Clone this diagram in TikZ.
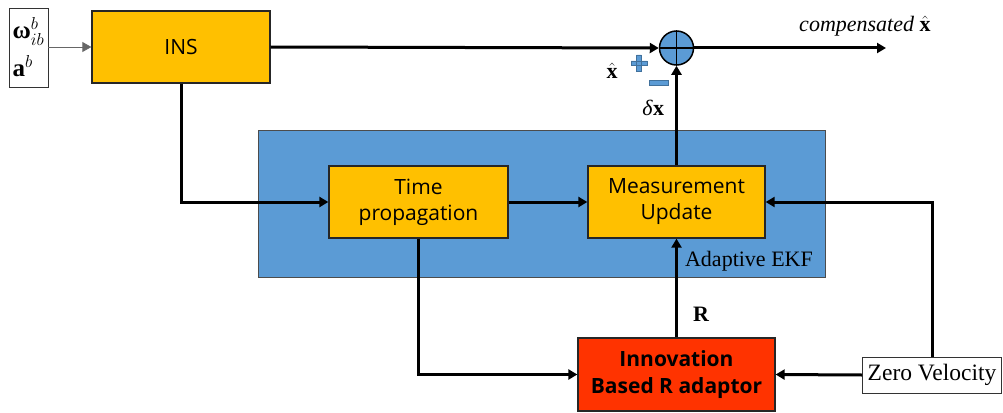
\documentclass[tikz,border=0pt]{standalone}
\usepackage{mathtools,amssymb}
\usepackage{fontspec}
\setmainfont{Liberation Serif}
\setsansfont{Open Sans}
\usetikzlibrary{arrows.meta}

\definecolor{insyellow}{HTML}{FFC000}
\definecolor{ekfblue}{HTML}{5B9BD5}
\definecolor{adaptred}{HTML}{FF3300}
\definecolor{signblue}{HTML}{41719C}

\newcommand{\bxhat}{$\hat{\text{\upshape\bfseries x}}$}

\tikzset{
  block/.style={draw=black!85, line width=1.3pt, fill=insyellow, inner sep=0pt,
    minimum width=178pt, minimum height=72pt, align=center,
    font=\sffamily\fontsize{21}{26}\selectfont},
  adaptbox/.style={block, fill=adaptred, minimum width=197pt, minimum height=73pt,
    font=\sffamily\bfseries\fontsize{21}{27}\selectfont},
  plainbox/.style={draw=black!80, line width=0.8pt, fill=white, inner sep=0pt},
  flow/.style={->, line width=3pt},
  lbl/.style={inner sep=0pt, font=\fontsize{22}{24}\selectfont},
}

\begin{document}
\begin{tikzpicture}[x=1pt, y=-1pt, >={Triangle[length=9pt,width=10pt]}]
  \useasboundingbox (0,0) rectangle (1003,412);

  % filter frame goes first so the blocks sit on top of it
  \node[draw=black!70, line width=0.8pt, fill=ekfblue, minimum width=567pt,
        minimum height=147pt] (ekf) at (542,203.5) {};
  \node[anchor=base east, inner sep=0pt, font=\fontsize{22}{24}\selectfont]
        (ekflabel) at (813,266) {Adaptive EKF};

  \node[plainbox, minimum width=39pt, minimum height=79pt, align=left,
        font=\fontsize{25}{38}\selectfont] (imu) at (28.5,47.5)
        {\textbf{ω}$_{ib}^{b}$\\\textbf{a}$^{b}$};
  \node[block] (ins) at (181,47) {INS};
  \node[circle, draw=black, line width=1.5pt, fill=ekfblue, minimum size=34pt,
        inner sep=0pt] (sum) at (676.5,48) {};
  \draw[line width=1.5pt] (sum.north) -- (sum.south) (sum.west) -- (sum.east);
  \coordinate (out) at (886,48);

  \node[block, minimum width=179pt] (tp) at (418.5,202) {Time\\propagation};
  \node[block, minimum width=177pt] (mu) at (676.5,202) {Measurement\\Update};
  \node[adaptbox] (adapt) at (676.5,374.5) {Innovation\\Based R adaptor};
  \node[plainbox, minimum width=139pt, minimum height=36pt,
        font=\fontsize{23.5}{26}\selectfont] (zv) at (932,375) {Zero Velocity};

  % signs at the summing junction
  \fill[ekfblue, draw=signblue, line width=0.5pt]
    (631,61) rectangle (647,65.5) (636.7,55) rectangle (641.3,71.5);
  \fill[ekfblue, draw=signblue, line width=0.5pt] (649.5,80.5) rectangle (668.5,85.5);

  \draw[->, line width=0.8pt, black!60] (imu.east |- ins.west) -- (ins.west);
  \draw[flow] (ins.east) -- node[lbl, pos=0.88, below=14pt] {\bxhat} (sum.west);
  \draw[flow] (sum.east) -- node[lbl, pos=0.89, above=10pt]
        {\itshape compensated\ \bxhat} (out);
  \draw[flow] (ins.south) |- (tp.west);
  \draw[flow] (tp.east) -- (mu.west);
  \draw[flow] (mu.north) -- node[lbl, pos=0.58, left=11pt] {\textit{δ}\textbf{x}} (sum.south);
  \draw[flow] (tp.south) |- (adapt.west);
  \draw[flow] (adapt.north) -- node[lbl, pos=0.23, right=15pt] {\textbf{R}} (mu.south);
  \draw[flow] (zv.west) -- (adapt.east);
  \draw[flow] (zv.north) |- (mu.east);
\end{tikzpicture}
\end{document}
